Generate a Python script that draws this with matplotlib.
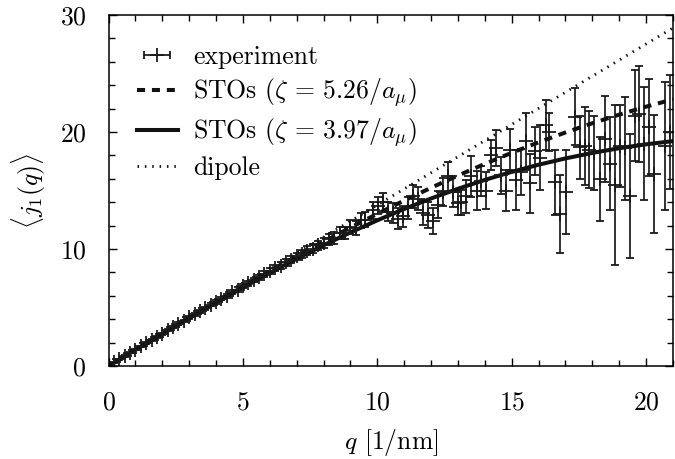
import numpy as np
import matplotlib
matplotlib.use("Agg")
import matplotlib.pyplot as plt
from matplotlib.ticker import MultipleLocator

plt.rcParams['font.family'] = 'cmr10'
plt.rcParams['mathtext.fontset'] = 'cm'
plt.rcParams['axes.formatter.use_mathtext'] = True

# experiment: q [1/nm], <j1(q)>, error
q_exp = [0.2, 0.4, 0.6, 0.8, 1.0, 1.2, 1.4, 1.6, 1.8, 2.0,
         2.2, 2.4, 2.6, 2.8, 3.0, 3.2, 3.4, 3.6, 3.8, 4.0,
         4.2, 4.4, 4.6, 4.8, 5.0, 5.2, 5.4, 5.6, 5.8, 6.0,
         6.2, 6.4, 6.6, 6.8, 7.0, 7.2, 7.4, 7.6, 7.8, 8.0,
         8.2, 8.4, 8.6, 8.8, 9.0, 9.2, 9.4, 9.54, 9.85, 10.03,
         10.22, 10.40, 10.59, 10.78, 10.96, 11.15, 11.33, 11.52, 11.70, 11.89,
         12.07, 12.25, 12.45, 12.63, 12.82, 13.00, 13.13, 13.29, 13.50, 13.69,
         13.87, 14.03, 14.24, 14.40, 14.62, 14.80, 14.95, 15.15, 15.33, 15.52,
         15.69, 15.88, 16.07, 16.27, 16.39, 16.60, 16.79, 17.03, 17.34, 17.55,
         17.71, 17.88, 18.06, 18.27, 18.46, 18.65, 18.83, 19.02, 19.20, 19.39,
         19.57, 19.73, 19.92, 20.10, 20.30, 20.70, 20.90]
y_exp = [0.30, 0.58, 0.86, 1.13, 1.41, 1.68, 1.96, 2.23, 2.51, 2.77,
         3.06, 3.32, 3.61, 3.86, 4.15, 4.41, 4.69, 4.94, 5.23, 5.48,
         5.76, 6.01, 6.30, 6.53, 6.82, 7.06, 7.35, 7.57, 7.86, 8.10,
         8.36, 8.58, 8.86, 9.08, 9.36, 9.56, 9.86, 10.04, 10.32, 10.50,
         10.82, 10.95, 11.36, 11.35, 11.88, 11.78, 12.45, 12.5, 13.3, 13.7,
         14.0, 13.2, 13.1, 12.6, 12.8, 13.5, 14.5, 14.3, 13.1, 12.9,
         12.4, 13.8, 14.9, 16.2, 14.9, 13.9, 14.0, 14.5, 16.2, 15.0,
         15.8, 15.0, 18.0, 18.6, 16.3, 15.0, 18.5, 15.9, 16.6, 19.2,
         15.6, 18.4, 17.8, 20.6, 20.0, 15.7, 13.0, 14.9, 21.3, 18.7,
         18.8, 18.5, 18.2, 16.0, 19.4, 17.3, 15.5, 18.8, 18.6, 14.5,
         21.4, 21.5, 19.0, 20.4, 16.4, 18.8, 20.0]
dy_exp = [0.05, 0.05, 0.06, 0.06, 0.07, 0.07, 0.08, 0.08, 0.09, 0.09,
          0.10, 0.10, 0.11, 0.11, 0.12, 0.12, 0.13, 0.13, 0.14, 0.15,
          0.15, 0.16, 0.17, 0.18, 0.19, 0.20, 0.21, 0.22, 0.23, 0.24,
          0.26, 0.27, 0.29, 0.30, 0.32, 0.34, 0.36, 0.38, 0.40, 0.42,
          0.45, 0.48, 0.50, 0.53, 0.56, 0.60, 0.63, 0.65, 0.70, 0.75,
          0.80, 0.80, 0.85, 0.90, 0.90, 0.95, 1.00, 1.00, 1.05, 1.10,
          1.10, 1.15, 1.20, 1.25, 1.30, 1.00, 1.07, 1.40, 1.75, 1.64,
          1.28, 1.57, 1.28, 1.54, 1.57, 1.78, 1.78, 2.56, 1.95, 2.42,
          2.56, 2.07, 2.78, 2.14, 1.64, 2.78, 3.32, 3.60, 2.42, 2.70,
          3.35, 3.30, 3.13, 3.59, 3.70, 3.96, 6.84, 3.49, 4.37, 5.31,
          3.92, 4.10, 4.84, 4.13, 5.06, 5.48, 4.84]

# model curves read at integer q
q_sto = [0, 1, 2, 3, 4, 5, 6, 7, 8, 9, 10,
         11, 12, 13, 14, 15, 16, 17, 18, 19, 20, 21]
sto_526 = [0, 1.375, 2.746, 4.107, 5.454, 6.783, 8.089, 9.368, 10.616, 11.830, 13.006,
           14.141, 15.233, 16.278, 17.275, 18.222, 19.117, 19.960, 20.749, 21.484, 22.165, 22.791]
sto_397 = [0, 1.375, 2.741, 4.090, 5.415, 6.707, 7.959, 9.166, 10.320, 11.416, 12.450,
           13.419, 14.319, 15.148, 15.906, 16.591, 17.203, 17.743, 18.213, 18.614, 18.949, 19.220]
q_dip = [0, 21]
dipole = [0, 28.9]

fig = plt.figure(figsize=(6.75, 4.59), dpi=100)
ax = fig.add_axes([108.5/675, 93/459, 564.5/675, 351/459])

ebkw = dict(fmt='+', color='#1a1a1a', ms=10, mew=1.3, elinewidth=1.25,
            capsize=3, capthick=1.25)
ax.errorbar(q_exp, y_exp, yerr=dy_exp, **ebkw)
# legend proxy: gnuplot style horizontal sample
h_exp = ax.errorbar([np.nan], [np.nan], xerr=[1], label='experiment', **ebkw)
h1, = ax.plot(q_sto, sto_526, color='#111111', lw=2.9, ls=(0, (2.0, 1.7)),
              label=r'STOs ($\zeta$ = 5.26/$a_\mu$)')
h2, = ax.plot(q_sto, sto_397, color='#111111', lw=2.9,
              label=r'STOs ($\zeta$ = 3.97/$a_\mu$)')
h3, = ax.plot(q_dip, dipole, color='#111111', lw=2.0, ls=(0, (0.55, 2.1)),
              label='dipole')

ax.set_xlim(0, 21)
ax.set_ylim(0, 30)
ax.set_xticks([0, 5, 10, 15, 20])
ax.set_yticks([0, 10, 20, 30])
ax.xaxis.set_minor_locator(MultipleLocator(1))
ax.yaxis.set_minor_locator(MultipleLocator(2))
ax.tick_params(which='both', direction='in', top=True, right=True, width=1.0,
               labelsize=18.5)
ax.tick_params(which='major', length=6)
ax.tick_params(which='minor', length=4)
ax.tick_params(axis='x', pad=18)
ax.tick_params(axis='y', pad=16)
for s in ax.spines.values():
    s.set_linewidth(1.1)

ax.set_xlabel(r'$q$ [1/nm]', fontsize=18.5, labelpad=9)
ax.set_ylabel(r'$\langle j_1(q)\rangle$', fontsize=18.5, labelpad=8)

ax.legend(handles=[h_exp, h1, h2, h3], loc='upper left',
          bbox_to_anchor=(0.05, 0.915), frameon=False,
          fontsize=18.5, handlelength=1.6, handletextpad=0.6, labelspacing=0.29,
          borderpad=0, borderaxespad=0)

fig.savefig('out.png', dpi=100)
